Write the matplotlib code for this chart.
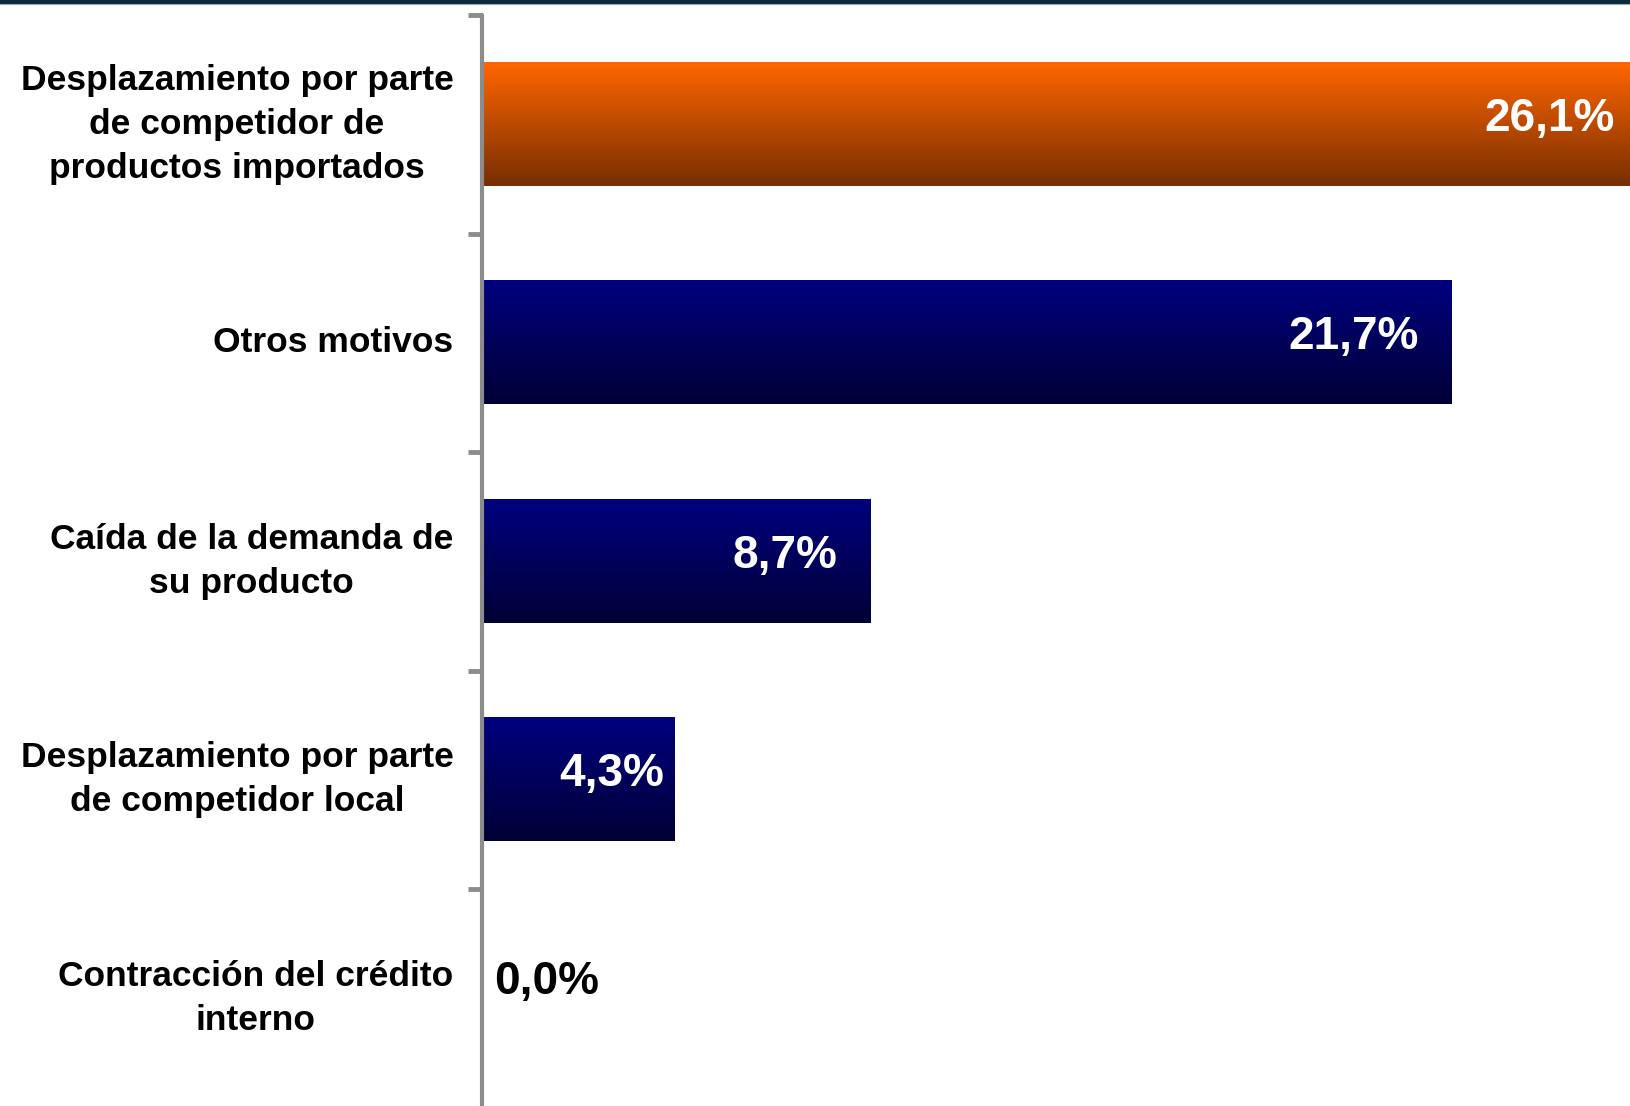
import numpy as np
import matplotlib
matplotlib.use('Agg')
import matplotlib.pyplot as plt
from matplotlib.lines import Line2D

plt.rcParams['font.family'] = ['Liberation Sans', 'DejaVu Sans']

categorias = ['Desplazamiento por parte\nde competidor de\nproductos importados',
              'Otros motivos',
              'Caída de la demanda de\nsu producto',
              'Desplazamiento por parte\nde competidor local',
              'Contracción del crédito\ninterno']
valores = [26.1, 21.7, 8.7, 4.3, 0.0]
etiquetas = ['26,1%', '21,7%', '8,7%', '4,3%', '0,0%']
resaltado = [True, False, False, False, False]

fig = plt.figure(figsize=(16.3, 11.06), dpi=100)
ax = fig.add_axes([482 / 1630, -1.5 / 1106, 1148 / 1630, 1092.5 / 1106])

pos = np.arange(len(valores))
bars = ax.barh(pos, valores, height=0.563, color='none', edgecolor='none')

# degradado vertical en cada barra
naranja = np.array([[1.0, 0.40, 0.0], [0.47, 0.18, 0.0]])
azul = np.array([[0.0, 0.0, 0.50], [0.0, 0.0, 0.21]])
t = np.linspace(0, 1, 64)[:, None, None]
for b, r in zip(bars, resaltado):
    if b.get_width() <= 0:
        continue
    c = naranja if r else azul
    grad = c[0] * (1 - t) + c[1] * t
    y0 = b.get_y()
    h = b.get_height()
    ax.imshow(grad, extent=[0, b.get_width(), y0 + h, y0], aspect='auto',
              interpolation='bilinear', zorder=2)
ax.set_ylim(len(valores) - 0.5, -0.5)
ax.set_xlim(0, 25.7)

# separación entre fin de barra y etiqueta (en unidades de x)
sep = {3: 0.22}
for i, (p, v, lab) in enumerate(zip(pos, valores, etiquetas)):
    if v > 0:
        ax.text(v - sep.get(i, 0.74), p + 0.03, lab, ha='right', va='baseline',
                color='white', fontsize=33, fontweight='bold', zorder=3)
    else:
        ax.text(0.27, p - 0.02, lab, ha='left', va='baseline', color='black',
                fontsize=33, fontweight='bold', zorder=3)

ax.set_yticks(pos)
ax.set_yticklabels(categorias, fontsize=25.5, fontweight='bold', multialignment='center',
                   linespacing=1.43, va='center')
ax.tick_params(axis='y', which='major', length=0, pad=20.5)
ax.set_yticks(np.arange(len(valores) + 1) - 0.5, minor=True)
ax.tick_params(axis='y', which='minor', length=10, width=3.5, color='#8c8c8c')
ax.set_xticks([])

for s in ['top', 'right', 'bottom']:
    ax.spines[s].set_visible(False)
ax.spines['left'].set_color('#8c8c8c')
ax.spines['left'].set_linewidth(3)
ax.spines['left'].set_capstyle('round')

# línea superior
fig.add_artist(Line2D([0, 1], [1 - 1.5 / 1106, 1 - 1.5 / 1106], color='#0b2a3a',
                      linewidth=3, transform=fig.transFigure))
fig.add_artist(Line2D([0, 1], [1 - 4 / 1106, 1 - 4 / 1106], color='#9aaab0',
                      linewidth=0.8, transform=fig.transFigure))

fig.savefig('out.png', dpi=100)
